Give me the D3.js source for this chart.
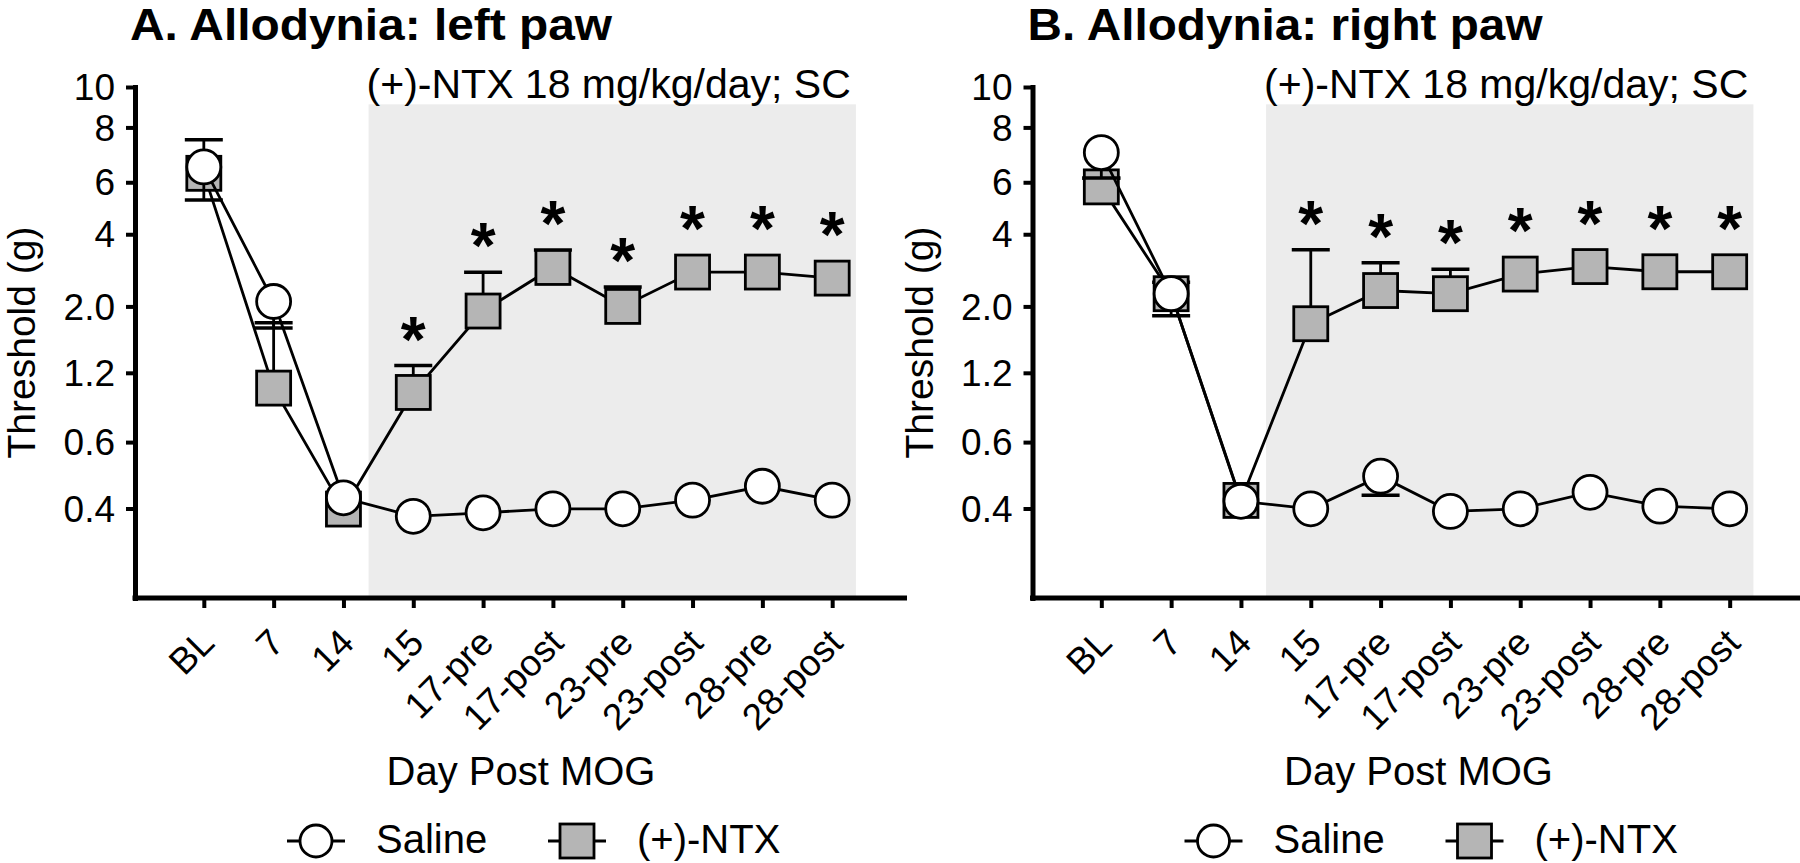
<!DOCTYPE html>
<html><head><meta charset="utf-8">
<script src="https://cdn.jsdelivr.net/npm/d3@7"></script>
<style>
body{margin:0;background:#fff}
svg{display:block}
text{font-family:"Liberation Sans", Arial, Helvetica, sans-serif; fill:#000}
</style>
</head><body>
<svg id="chart" width="1800" height="863"></svg>
<script>
// ---------- data ----------
const categories = ["BL","7","14","15","17-pre","17-post","23-pre","23-post","28-pre","28-post"];
// y axis is linear in von Frey filament log units; ticks labelled in grams
const yTickValues = [3.61,3.84,4.08,4.31,4.56,4.74,4.93,5.07];
const yTickLabels = ["0.4","0.6","1.2","2.0","4","6","8","10"];
const seriesNames = ["Saline","(+)-NTX"];
const panelTitles = ["A. Allodynia: left paw","B. Allodynia: right paw"];
const treatmentLabel = "(+)-NTX 18 mg/kg/day; SC";
const xAxisTitle = "Day Post MOG";
const yAxisTitle = "Threshold (g)";

// left paw (log units)
const leftSaline    = [4.793,4.327,3.647,3.583,3.595,3.609,3.609,3.639,3.687,3.639];
const leftSalineErr = [0.114,0.092,0,0,0,0,0,0,0,0];
const leftNTX       = [4.771,4.027,3.608,4.012,4.294,4.445,4.310,4.429,4.429,4.408];
const leftNTXErr    = [0.116,0.226,0,0.093,0.134,0.060,0.067,0,0,0];
const leftSig       = [0,0,0,1,1,1,1,1,1,1];
// right paw (log units)
const rightSaline    = [4.843,4.354,3.635,3.609,3.722,3.600,3.609,3.666,3.618,3.609];
const rightSalineErr = [0.088,0.076,0,0,0.066,0,0,0,0,0];
const rightNTX       = [4.724,4.354,3.638,4.250,4.365,4.354,4.422,4.448,4.430,4.430];
const rightNTXErr    = [0.030,0.040,0,0.256,0.096,0.085,0,0,0,0];
const rightSig       = [0,0,0,1,1,1,1,1,1,1];

// ---------- drawing ----------
const svg = d3.select("#chart");
const panels = [
  {ox:0,     title:panelTitles[0], tw:482, sal:leftSaline,  salErr:leftSalineErr,  ntx:leftNTX,  ntxErr:leftNTXErr,  sig:leftSig},
  {ox:897.5, title:panelTitles[1], tw:515, sal:rightSaline, salErr:rightSalineErr, ntx:rightNTX, ntxErr:rightNTXErr, sig:rightSig}
];

const plotTop = 87, plotBottom = 598;
const greyFill = "#b5b5b5", shadeFill = "#ececec";
const R = 17, S = 34, lw = 2.8, capHalf = 19;

panels.forEach(p => {
  const axisX = 135 + p.ox;
  const plotRight = 907 + p.ox;
  const g = svg.append("g");

  const x = d3.scalePoint().domain(categories).range([axisX - 1, axisX + 767]).padding(1);
  const y = d3.scaleLinear().domain([3.30, 5.07]).range([plotBottom, plotTop]);

  // treatment shading
  const sx0 = x("14") + x.step()*0.36, sx1 = x("28-post") + x.step()*0.34;
  g.append("rect").attr("x", sx0).attr("y", y(5.01)).attr("width", sx1 - sx0)
    .attr("height", plotBottom - y(5.01)).attr("fill", shadeFill);
  g.append("text").attr("x", sx0 - 2).attr("y", 98).attr("font-size", 41).text(treatmentLabel);

  // title
  g.append("text").attr("x", axisX - 5).attr("y", 40).attr("font-size", 45)
    .attr("textLength", p.tw).attr("lengthAdjust", "spacingAndGlyphs")
    .attr("font-weight", "bold").text(p.title);

  // y axis
  const yAxis = d3.axisLeft(y).tickValues(yTickValues).tickFormat((d,i)=>yTickLabels[i])
    .tickSizeInner(9).tickSizeOuter(0).tickPadding(11);
  const ya = g.append("g").attr("transform", `translate(${axisX},0)`).call(yAxis);
  ya.select(".domain").attr("stroke-width", 5).attr("stroke-linecap", "square").attr("stroke","#000");
  ya.selectAll(".tick line").attr("stroke-width", 4).attr("stroke","#000");
  ya.selectAll(".tick text").attr("font-size", 37).attr("dy", "0.34em")
    .style("font-family", '"Liberation Sans", Arial, sans-serif').attr("fill","#000");

  // x axis
  const xAxis = d3.axisBottom(x).tickSizeInner(10).tickSizeOuter(0);
  const xa = g.append("g").attr("transform", `translate(0,${plotBottom})`).call(xAxis);
  xa.select(".domain").remove();
  xa.selectAll(".tick line").attr("stroke-width", 4).attr("stroke","#000");
  xa.selectAll(".tick text").attr("font-size", 37).attr("x", 0).attr("y", 0).attr("dy", 0)
    .attr("text-anchor", "end").attr("transform", "translate(12,47) rotate(-45)")
    .style("font-family", '"Liberation Sans", Arial, sans-serif').attr("fill","#000");
  g.append("line").attr("x1", axisX - 2.5).attr("x2", plotRight).attr("y1", plotBottom).attr("y2", plotBottom)
    .attr("stroke", "#000").attr("stroke-width", 5);

  // axis titles
  g.append("text").attr("transform", `translate(${p.ox + 35},${(plotTop+plotBottom)/2}) rotate(-90)`)
    .attr("text-anchor", "middle").attr("font-size", 39).text(yAxisTitle);
  g.append("text").attr("x", (axisX + plotRight)/2).attr("y", 785).attr("text-anchor", "middle")
    .attr("font-size", 40).text(xAxisTitle);

  const line = d3.line().x((d,i)=>x(categories[i])).y(d=>y(d));

  // NTX series (errors upward)
  g.append("path").attr("d", line(p.ntx)).attr("fill","none").attr("stroke","#000").attr("stroke-width", lw);
  p.ntx.forEach((v,i) => {
    if (p.ntxErr[i] > 0) {
      const cx = x(categories[i]), yc = y(v + p.ntxErr[i]);
      g.append("line").attr("x1",cx).attr("x2",cx).attr("y1",y(v)).attr("y2",yc).attr("stroke","#000").attr("stroke-width",lw);
      g.append("line").attr("x1",cx-capHalf).attr("x2",cx+capHalf).attr("y1",yc).attr("y2",yc).attr("stroke","#000").attr("stroke-width",3.5);
    }
  });
  g.selectAll(null).data(p.ntx).enter().append("rect")
    .attr("x",(d,i)=>x(categories[i]) - S/2).attr("y",d=>y(d) - S/2)
    .attr("width",S).attr("height",S).attr("fill",greyFill).attr("stroke","#000").attr("stroke-width",lw);

  // Saline series (errors downward)
  g.append("path").attr("d", line(p.sal)).attr("fill","none").attr("stroke","#000").attr("stroke-width", lw);
  p.sal.forEach((v,i) => {
    if (p.salErr[i] > 0) {
      const cx = x(categories[i]), yc = y(v - p.salErr[i]);
      g.append("line").attr("x1",cx).attr("x2",cx).attr("y1",y(v)).attr("y2",yc).attr("stroke","#000").attr("stroke-width",lw);
      g.append("line").attr("x1",cx-capHalf).attr("x2",cx+capHalf).attr("y1",yc).attr("y2",yc).attr("stroke","#000").attr("stroke-width",3.5);
    }
  });
  g.selectAll(null).data(p.sal).enter().append("circle")
    .attr("cx",(d,i)=>x(categories[i])).attr("cy",d=>y(d)).attr("r",R)
    .attr("fill","#fff").attr("stroke","#000").attr("stroke-width",lw);

  // significance asterisks
  p.sig.forEach((s,i) => {
    if (!s) return;
    const top = Math.min(y(p.ntx[i] + p.ntxErr[i]), y(p.ntx[i]) - S/2);
    const cy = top - 39;
    g.append("text").attr("x", x(categories[i])).attr("y", cy + 35).attr("text-anchor","middle")
      .attr("font-size", 64).attr("font-weight","bold").text("*");
  });

  // legend
  const ly = 841;
  const lg = g.append("g");
  lg.append("line").attr("x1",p.ox+287).attr("x2",p.ox+345).attr("y1",ly).attr("y2",ly).attr("stroke","#000").attr("stroke-width",lw);
  lg.append("circle").attr("cx",p.ox+316).attr("cy",ly).attr("r",16).attr("fill","#fff").attr("stroke","#000").attr("stroke-width",lw);
  lg.append("text").attr("x",p.ox+376).attr("y",853).attr("font-size",40).text(seriesNames[0]);
  lg.append("line").attr("x1",p.ox+548).attr("x2",p.ox+606).attr("y1",ly).attr("y2",ly).attr("stroke","#000").attr("stroke-width",lw);
  lg.append("rect").attr("x",p.ox+577-17).attr("y",ly-17).attr("width",34).attr("height",34)
    .attr("fill",greyFill).attr("stroke","#000").attr("stroke-width",lw);
  lg.append("text").attr("x",p.ox+637).attr("y",853).attr("font-size",40).text(seriesNames[1]);
});
</script>
</body></html>
